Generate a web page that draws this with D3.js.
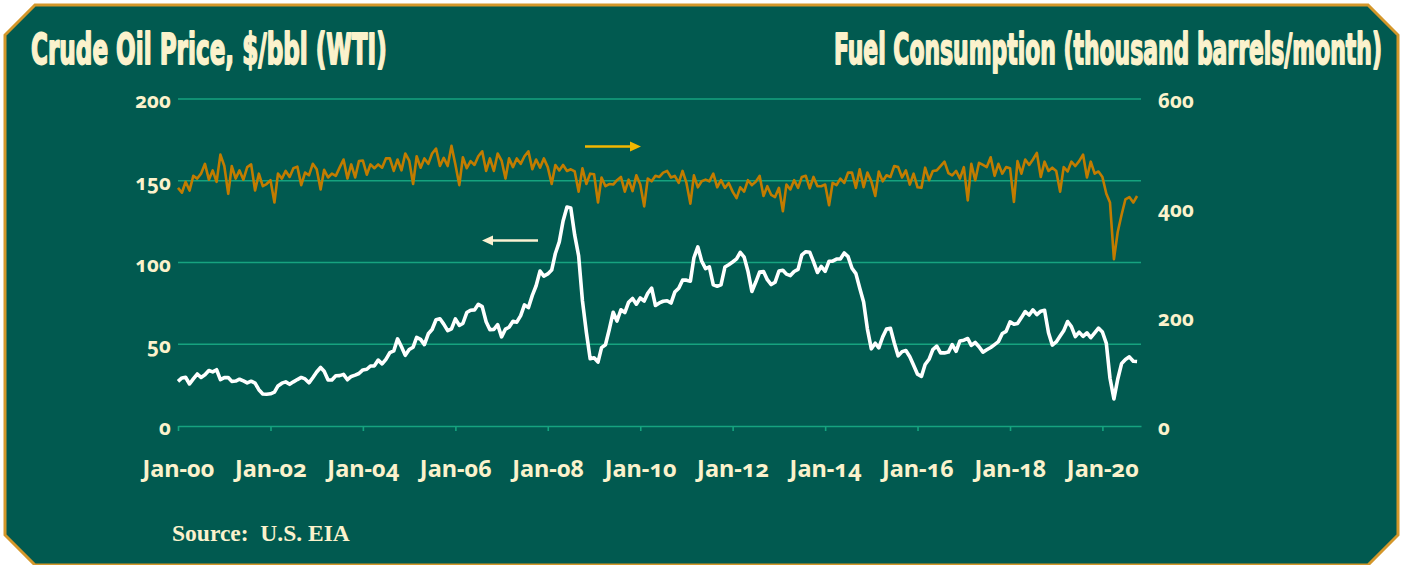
<!DOCTYPE html>
<html>
<head>
<meta charset="utf-8">
<script src="https://cdn.jsdelivr.net/npm/d3@7"></script>
<style>
  html, body { margin: 0; padding: 0; background: #ffffff; }
  svg { display: block; }
  .tick text { font-family: "Noto Sans", "Open Sans", sans-serif; font-weight: 700; fill: #fbf2cc; font-variant-numeric: oldstyle-nums; font-feature-settings: "onum" 1; }
</style>
</head>
<body>
<svg id="chart" width="1401" height="565"></svg>
<script>
// ---- Data (monthly, Jan 2000 – Oct 2020) ----
const startYear = 2000;
const oilPrice = [
  27.3, 29.4, 29.8, 25.7, 28.8, 31.8, 29.7, 31.3, 33.9, 33.1, 34.4, 28.4,
  29.6, 29.6, 27.3, 27.5, 28.6, 27.6, 26.4, 27.4, 26.2, 22.2, 19.6, 19.4,
  19.7, 20.7, 24.5, 26.2, 27.0, 25.5, 27.0, 28.4, 29.7, 28.8, 26.4, 29.5,
  33.0, 35.8, 33.5, 28.2, 28.1, 30.7, 30.8, 31.6, 28.3, 30.3, 31.1, 32.1,
  34.3, 34.7, 36.7, 36.8, 40.3, 38.0, 40.8, 44.9, 45.9, 53.3, 48.5, 43.2,
  46.8, 48.2, 54.2, 53.0, 49.8, 56.4, 59.0, 65.0, 65.6, 62.3, 58.3, 59.4,
  65.5, 61.6, 62.7, 69.4, 70.8, 71.0, 74.4, 73.0, 63.8, 58.9, 59.1, 62.0,
  54.5, 59.3, 60.4, 64.0, 63.5, 67.5, 74.1, 72.4, 79.9, 85.8, 94.8, 91.7,
  93.0, 95.4, 105.5, 112.6, 125.4, 133.9, 133.4, 116.7, 104.1, 76.6, 57.3, 41.1,
  41.7, 39.1, 47.9, 49.7, 59.0, 69.6, 64.2, 71.1, 69.4, 75.7, 78.0, 74.5,
  78.3, 76.4, 81.2, 84.3, 73.7, 75.3, 76.3, 76.6, 75.2, 81.9, 84.3, 89.2,
  89.2, 88.6, 102.9, 109.5, 100.9, 96.3, 97.3, 86.3, 85.5, 86.3, 97.2, 98.6,
  100.3, 102.2, 106.2, 103.3, 94.7, 82.3, 87.9, 94.1, 94.5, 89.5, 86.5, 87.9,
  94.8, 95.3, 92.9, 92.0, 94.5, 95.8, 104.7, 106.6, 106.3, 100.5, 93.9, 97.6,
  94.6, 100.8, 100.8, 102.1, 102.2, 105.8, 103.6, 96.5, 93.2, 84.4, 75.8, 59.3,
  47.2, 50.6, 47.8, 54.5, 59.3, 59.8, 50.9, 42.9, 45.5, 46.2, 42.4, 37.2,
  31.7, 30.3, 37.6, 40.8, 46.7, 48.8, 44.7, 44.7, 45.2, 49.8, 45.7, 52.0,
  52.5, 53.5, 49.3, 51.1, 48.5, 45.2, 46.6, 48.0, 49.8, 51.6, 56.6, 57.9,
  63.7, 62.2, 62.7, 66.3, 70.0, 67.9, 71.0, 68.1, 70.2, 70.8, 57.0, 49.5,
  51.4, 55.0, 58.2, 63.9, 60.8, 54.7, 57.4, 54.8, 57.0, 54.0, 57.0, 59.9,
  57.5, 50.5, 29.2, 16.6, 28.6, 38.3, 40.7, 42.3, 39.6, 39.4
];
const fuelConsumption = [
  437, 428, 448, 432, 459, 454, 463, 481, 452, 469, 448, 498,
  477, 426, 477, 454, 469, 452, 475, 480, 432, 463, 440, 444,
  451, 410, 463, 454, 468, 457, 473, 476, 442, 465, 460, 481,
  471, 434, 470, 456, 463, 459, 474, 489, 454, 480, 456, 486,
  487, 461, 480, 473, 480, 474, 491, 491, 468, 489, 469, 500,
  487, 444, 495, 474, 491, 481, 500, 509, 477, 492, 477, 514,
  480, 442, 493, 473, 486, 479, 495, 504, 468, 491, 468, 500,
  487, 454, 491, 475, 491, 481, 495, 504, 471, 489, 474, 491,
  475, 444, 479, 469, 479, 468, 471, 467, 430, 473, 444, 463,
  462, 410, 456, 440, 444, 443, 451, 457, 430, 452, 431, 460,
  443, 403, 454, 449, 459, 457, 465, 468, 456, 459, 446, 468,
  446, 408, 460, 438, 449, 452, 449, 463, 438, 451, 437, 446,
  430, 418, 438, 430, 451, 442, 448, 459, 422, 440, 424, 420,
  437, 394, 443, 434, 451, 437, 457, 459, 436, 457, 440, 440,
  443, 405, 446, 442, 454, 446, 465, 465, 437, 471, 438, 465,
  449, 422, 467, 449, 460, 457, 477, 475, 456, 469, 443, 463,
  438, 437, 474, 451, 468, 469, 477, 485, 464, 460, 468, 454,
  475, 414, 481, 451, 483, 479, 475, 493, 459, 481, 463, 475,
  473, 411, 486, 463, 489, 479, 489, 501, 457, 485, 468, 474,
  468, 430, 475, 467, 485, 477, 486, 498, 456, 485, 463, 467,
  457, 426, 410, 306, 356, 388, 416, 420, 410, 422
];
const leftTicks = [0, 50, 100, 150, 200];
const rightTicks = [0, 200, 400, 600];
const xTickYears = [2000, 2002, 2004, 2006, 2008, 2010, 2012, 2014, 2016, 2018, 2020];
const titleLeft = "Crude Oil Price, $/bbl (WTI)";
const titleRight = "Fuel Consumption (thousand barrels/month)";
const sourceText = "Source:  U.S. EIA";

// ---- Styles ----
const C = {
  bg: "#015a50", border: "#d4972a", grid: "#16a37f", text: "#fbf2cc",
  oil: "#ffffff", fuel: "#c27c00", arrowFuel: "#f2b700", arrowOil: "#fbf2d2"
};

const svg = d3.select("#chart");

// Panel with chamfered corners
const ch = 30;
const L = 5, R = 1398, T = 5, B = 565;
svg.append("path")
  .attr("d", `M${L + ch},${T} L${R - ch},${T} L${R},${T + ch} L${R},${B - ch} L${R - ch},${B} L${L + ch},${B} L${L},${B - ch} L${L},${T + ch} Z`)
  .attr("fill", C.bg).attr("stroke", C.border).attr("stroke-width", 3);

const plot = { left: 178, right: 1141, top: 99, bottom: 426 };

const dates = oilPrice.map((_, i) => new Date(startYear, i, 1));
const x = d3.scaleTime()
  .domain([new Date(2000, 0, 1), new Date(2020, 10, 1)])
  .range([plot.left, plot.right]);
const yL = d3.scaleLinear().domain([0, 200]).range([plot.bottom, plot.top]);
const yR = d3.scaleLinear().domain([0, 600]).range([plot.bottom, plot.top]);

// Gridlines
svg.append("g").selectAll("line")
  .data(leftTicks.filter(d => d > 0))
  .join("line")
  .attr("x1", plot.left).attr("x2", plot.right)
  .attr("y1", d => yL(d)).attr("y2", d => yL(d))
  .attr("stroke", C.grid).attr("stroke-width", 1.6);

// X axis
const xAxis = svg.append("g")
  .attr("transform", `translate(0,${plot.bottom})`)
  .call(d3.axisBottom(x)
    .tickValues(xTickYears.map(y => new Date(y, 0, 1)))
    .tickFormat(d3.timeFormat("Jan-%y"))
    .tickSize(5).tickSizeOuter(0).tickPadding(29));
xAxis.select(".domain").attr("stroke", C.grid).attr("stroke-width", 1.6);
xAxis.selectAll(".tick line").attr("stroke", C.grid).attr("stroke-width", 1.6);
xAxis.selectAll(".tick text").attr("font-size", 23.5);

// Left axis
const lAxis = svg.append("g")
  .attr("transform", `translate(${plot.left},0)`)
  .call(d3.axisLeft(yL).tickValues(leftTicks).tickSize(0).tickPadding(7));
lAxis.select(".domain").remove();
lAxis.selectAll(".tick text").attr("font-size", 20.5).attr("dy", "0.42em");

// Right axis
const rAxis = svg.append("g")
  .attr("transform", `translate(${plot.right},0)`)
  .call(d3.axisRight(yR).tickValues(rightTicks).tickSize(0).tickPadding(17));
rAxis.select(".domain").remove();
rAxis.selectAll(".tick text").attr("font-size", 20.5).attr("dy", "0.42em");

// Lines
const fuelLine = d3.line().x((d, i) => x(dates[i])).y(d => yR(d));
const oilLine = d3.line().x((d, i) => x(dates[i])).y(d => yL(d));
svg.append("path").datum(fuelConsumption)
  .attr("d", fuelLine).attr("fill", "none")
  .attr("stroke", C.fuel).attr("stroke-width", 2.6).attr("stroke-linejoin", "round");
svg.append("path").datum(oilPrice)
  .attr("d", oilLine).attr("fill", "none")
  .attr("stroke", C.oil).attr("stroke-width", 3.6).attr("stroke-linejoin", "round");

// Arrows
function arrow(x1, x2, y, color) {
  const dir = Math.sign(x2 - x1);
  const hl = 11, hw = 5;
  svg.append("line").attr("x1", x1).attr("x2", x2 - dir * hl).attr("y1", y).attr("y2", y)
    .attr("stroke", color).attr("stroke-width", 2.6);
  svg.append("path")
    .attr("d", `M${x2},${y} L${x2 - dir * hl},${y - hw} L${x2 - dir * hl},${y + hw} Z`)
    .attr("fill", color);
}
arrow(585, 641, 146.5, C.arrowFuel);
arrow(538, 482, 240.5, C.arrowOil);

// Titles: heavy condensed, fitted to the reference widths by a horizontal scale
const titleFont = '"DejaVu Sans Condensed", "Liberation Sans Narrow", "DejaVu Sans", sans-serif';
function title(str, x0, baseline, width) {
  const g = svg.append("g");
  const t = g.append("text").text(str)
    .attr("x", 0).attr("y", 0)
    .attr("font-family", titleFont).attr("font-weight", 700).attr("font-size", 43)
    .attr("fill", C.text).attr("stroke", C.text).attr("stroke-width", 1.8)
    .attr("stroke-linejoin", "round");
  const w = t.node().getComputedTextLength();
  g.attr("transform", `translate(${x0},${baseline}) scale(${(width - 2) / w},1)`);
}
title(titleLeft, 31, 64, 358);
title(titleRight, 834, 64, 550);

// Source
svg.append("text").text(sourceText)
  .attr("x", 172).attr("y", 541)
  .attr("font-family", '"Liberation Serif", "DejaVu Serif", serif')
  .attr("font-weight", 700).attr("font-size", 23.5)
  .style("white-space", "pre")
  .attr("fill", C.text);
</script>
</body>
</html>
